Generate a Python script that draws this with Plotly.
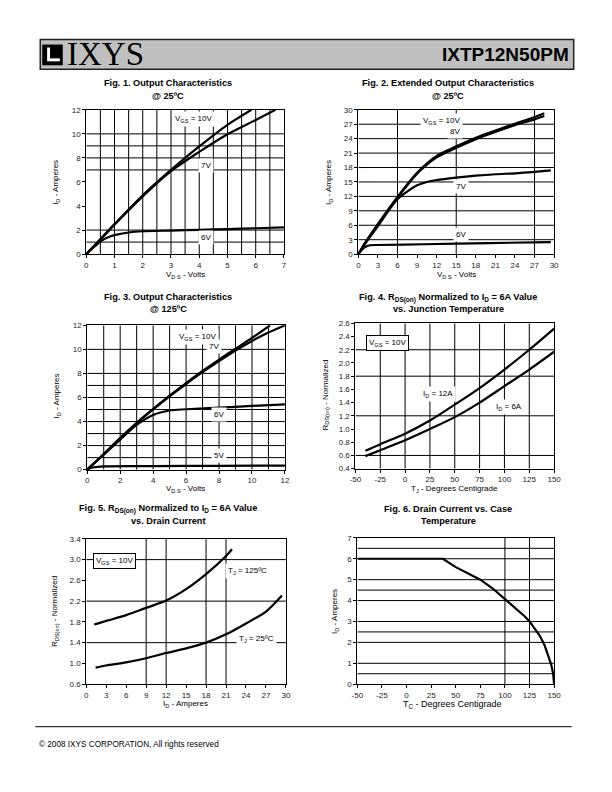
import plotly.graph_objects as go

W, H = 612, 792
FONT = "Liberation Sans, Arial, sans-serif"

# ---------------- data ----------------
# Fig. 1  Output characteristics @25C  (VDS [V], ID [A])
f1_vds_10v = [0, 0.5, 1, 2, 3, 4, 5, 5.85]
f1_id_10v = [0, 1.25, 2.5, 4.9, 7.0, 8.95, 10.75, 12.0]
f1_vds_7v = [0, 0.5, 1, 2, 3, 4, 5, 6, 6.7]
f1_id_7v = [0, 1.2, 2.45, 4.8, 6.9, 8.5, 9.97, 11.15, 12.0]
f1_vds_6v = [0, 0.25, 0.5, 0.75, 1, 1.5, 2, 3, 4, 5, 6, 7]
f1_id_6v = [0, 0.55, 1.05, 1.38, 1.58, 1.8, 1.9, 1.96, 2.02, 2.08, 2.15, 2.22]

# Fig. 2  Extended output characteristics @25C
f2_vds_10v = [0, 1, 3, 6, 9, 12, 15, 18, 21, 24, 27, 28.5]
f2_id_10v = [0, 2.3, 6.3, 11.9, 16.9, 20.4, 22.4, 24.2, 25.7, 27.1, 28.5, 29.3]
f2_vds_8v = [0, 1, 3, 6, 9, 12, 15, 18, 21, 24, 27, 28.5]
f2_id_8v = [0, 2.2, 6.1, 11.7, 16.7, 20.1, 22.1, 23.9, 25.4, 26.8, 28.0, 28.7]
f2_vds_7v = [0, 1, 3, 6, 9, 10.5, 12, 15, 18, 21, 24, 27, 29.5]
f2_id_7v = [0, 2.1, 5.8, 11.4, 14.3, 15.0, 15.4, 15.9, 16.3, 16.6, 16.8, 17.1, 17.4]
f2_vds_6v = [0, 0.6, 1.2, 1.8, 3, 10, 20, 29.5]
f2_id_6v = [0, 1.0, 1.6, 1.85, 1.9, 2.05, 2.3, 2.5]

# Fig. 3  Output characteristics @125C
f3_vds_10v = [0, 1, 2, 3, 4, 5, 6, 7, 8, 9, 10, 11.1]
f3_id_10v = [0, 1.3, 2.65, 3.9, 5.05, 6.15, 7.2, 8.2, 9.15, 10.05, 10.95, 12.0]
f3_vds_7v = [0, 1, 2, 3, 4, 5, 6, 7, 8, 9, 10, 11, 12]
f3_id_7v = [0, 1.28, 2.6, 3.85, 5.0, 6.1, 7.12, 8.1, 9.02, 9.9, 10.7, 11.4, 12.0]
f3_vds_6v = [0, 1, 2, 3, 4, 5, 6, 8, 10, 12]
f3_id_6v = [0, 1.25, 2.5, 3.72, 4.55, 4.92, 5.02, 5.15, 5.3, 5.43]
f3_vds_5v = [0, 0.4, 1, 4, 8, 12]
f3_id_5v = [0, 0.2, 0.28, 0.3, 0.32, 0.34]

# Fig. 4  RDS(on) normalized vs junction temperature
f4_tj = [-40, -25, 0, 25, 50, 75, 100, 125, 150]
f4_r_12a = [0.67, 0.77, 0.93, 1.13, 1.37, 1.62, 1.9, 2.2, 2.52]
f4_r_6a = [0.59, 0.68, 0.83, 1.0, 1.18, 1.4, 1.65, 1.9, 2.17]

# Fig. 5  RDS(on) normalized vs drain current
f5_id_125 = [1.2, 3, 6, 9, 12, 15, 18, 21, 21.9]
f5_r_125 = [1.75, 1.82, 1.93, 2.07, 2.21, 2.43, 2.72, 3.07, 3.2]
f5_id_25 = [1.4, 3, 6, 9, 12, 15, 18, 21, 24, 27, 29.4]
f5_r_25 = [0.92, 0.96, 1.02, 1.1, 1.2, 1.29, 1.4, 1.56, 1.77, 2.0, 2.31]

# Fig. 6  Drain current vs case temperature
f6_tc = [-50, 37, 50, 62, 75, 87, 100, 110, 120, 125, 130, 135, 140, 144, 147, 149, 150]
f6_id = [6.0, 6.0, 5.6, 5.3, 5.0, 4.6, 4.08, 3.65, 3.25, 3.0, 2.7, 2.35, 1.9, 1.4, 0.95, 0.5, 0.0]

# tick labels (x) for the temperature axes, hyphen minus as in the original
temp_ticks = [-50, -25, 0, 25, 50, 75, 100, 125, 150]
temp_tick_text = ["-50", "-25", "0", "25", "50", "75", "100", "125", "150"]

# grid lines (data units) per panel
f1_vgrid = [0.5, 1, 1.5, 2, 2.5, 3, 3.5, 4, 4.5, 5, 5.5, 6, 6.5]
f1_hgrid = [1, 2, 7, 8, 9, 10]
f2_vgrid = [6, 15, 27]
f2_hgrid = [3, 6, 9, 12, 15, 18, 21, 24, 27]
f3_vgrid = [1, 2, 3, 4, 5, 6, 7, 8, 9, 10, 11]
f3_hgrid = [1, 2, 3, 4, 5, 6, 7, 8, 10]
f4_vgrid = [-25, 0, 25, 50, 75, 100, 125]
f4_hgrid = [0.6, 1.2, 1.8, 2.2]
f5_vgrid = [9, 12, 18, 21]
f5_hgrid = [1.4, 2.2, 3.0]
f6_vgrid = [100, 125]
f6_hgrid = [0.5, 1, 2, 2.5, 3, 4, 4.5, 5, 6, 6.5]

# ---------------- figure ----------------
fig = go.Figure()


def py(p):
    return 1 - p / H


def pxx(p):
    return p / W


# panel geometry in pixels: (x0, x1, ytop, ybottom)
panels = {
    1: dict(px=(82, 284), py=(107, 253), xr=[0, 7], yr=[0, 12], xd=1, yd=2, x0=0, y0=0, yf=None),
    2: dict(px=(360, 560), py=(107, 253), xr=[0, 30], yr=[0, 30], xd=3, yd=3, x0=0, y0=0, yf=None),
    3: dict(px=(83, 285), py=(325, 471), xr=[0, 12], yr=[0, 12], xd=2, yd=2, x0=0, y0=0, yf=None),
    4: dict(px=(357, 560), py=(323, 470), xr=[-50, 150], yr=[0.4, 2.6], xd=25, yd=0.2, x0=-50, y0=0.4, yf=".1f"),
    5: dict(px=(82, 286), py=(541, 688), xr=[0, 30], yr=[0.6, 3.4], xd=3, yd=0.4, x0=0, y0=0.6, yf=".1f"),
    6: dict(px=(359, 560), py=(540, 688), xr=[-50, 150], yr=[0, 7], xd=25, yd=1, x0=-50, y0=0, yf=None),
}

tickfont = dict(family=FONT, size=8, color="#222")
for i, p in panels.items():
    sfx = "" if i == 1 else str(i)
    xa = dict(
        domain=[pxx(p["px"][0]), pxx(p["px"][1])], range=p["xr"], anchor="y" + sfx,
        tick0=p["x0"], dtick=p["xd"], showgrid=False, zeroline=False,
        showline=True, linecolor="black", linewidth=1, mirror=True,
        ticks="outside", ticklen=3, tickcolor="black", tickfont=tickfont, fixedrange=True)
    if i in (4, 6):
        xa.update(tickmode="array", tickvals=temp_ticks, ticktext=temp_tick_text)
    fig.layout["xaxis" + sfx] = xa
    ya = dict(
        domain=[py(p["py"][1]), py(p["py"][0])], range=p["yr"], anchor="x" + sfx,
        tick0=p["y0"], dtick=p["yd"], showgrid=False, zeroline=False,
        showline=True, linecolor="black", linewidth=1, mirror=True,
        ticks="outside", ticklen=3, tickcolor="black", tickfont=tickfont, fixedrange=True)
    if p["yf"]:
        ya["tickformat"] = p["yf"]
    fig.layout["yaxis" + sfx] = ya

grids = {1: (f1_vgrid, f1_hgrid), 2: (f2_vgrid, f2_hgrid), 3: (f3_vgrid, f3_hgrid),
         4: (f4_vgrid, f4_hgrid), 5: (f5_vgrid, f5_hgrid), 6: (f6_vgrid, f6_hgrid)}
shapes = []
for i, (vg, hg) in grids.items():
    sfx = "" if i == 1 else str(i)
    xr = panels[i]["xr"]
    yr = panels[i]["yr"]
    for v in vg:
        shapes.append(dict(type="line", xref="x" + sfx, yref="y" + sfx, x0=v, x1=v, y0=yr[0], y1=yr[1],
                           line=dict(color="black", width=1), layer="below"))
    for h in hg:
        shapes.append(dict(type="line", xref="x" + sfx, yref="y" + sfx, x0=xr[0], x1=xr[1], y0=h, y1=h,
                           line=dict(color="black", width=1), layer="below"))


def add(x, y, i, shape="spline"):
    sfx = "" if i == 1 else str(i)
    fig.add_trace(go.Scatter(x=x, y=y, mode="lines", xaxis="x" + sfx, yaxis="y" + sfx,
                             line=dict(color="black", width=2.2, shape=shape, smoothing=0.8),
                             showlegend=False, hoverinfo="skip"))


add(f1_vds_10v, f1_id_10v, 1)
add(f1_vds_7v, f1_id_7v, 1)
add(f1_vds_6v, f1_id_6v, 1)
add(f2_vds_10v, f2_id_10v, 2)
add(f2_vds_8v, f2_id_8v, 2)
add(f2_vds_7v, f2_id_7v, 2)
add(f2_vds_6v, f2_id_6v, 2)
add(f3_vds_10v, f3_id_10v, 3)
add(f3_vds_7v, f3_id_7v, 3)
add(f3_vds_6v, f3_id_6v, 3)
add(f3_vds_5v, f3_id_5v, 3)
add(f4_tj, f4_r_12a, 4)
add(f4_tj, f4_r_6a, 4)
add(f5_id_125, f5_r_125, 5)
add(f5_id_25, f5_r_25, 5)
add(f6_tc, f6_id, 6, shape="linear")

ann = []


def label(text, x, y, i, box=False, size=8):
    sfx = "" if i == 1 else str(i)
    d = dict(text=text, x=x, y=y, xref="x" + sfx, yref="y" + sfx, showarrow=False,
             font=dict(family=FONT, size=size, color="black"), bgcolor="white", borderpad=2)
    if box:
        d.update(bordercolor="black", borderwidth=1)
    ann.append(d)


label("V<sub>GS</sub> = 10V", 3.8, 11.2, 1)
label("7V", 4.25, 7.4, 1)
label("6V", 4.25, 1.35, 1)
label("V<sub>GS</sub> = 10V", 12.8, 27.6, 2)
label("8V", 14.8, 25.4, 2)
label("7V", 15.8, 14.0, 2)
label("6V", 15.8, 4.1, 2)
label("V<sub>GS</sub> = 10V", 6.7, 11.0, 3)
label("7V", 7.7, 10.2, 3)
label("6V", 8.0, 4.55, 3)
label("5V", 8.0, 1.15, 3)
label("V<sub>GS</sub> = 10V", -18, 2.3, 4, box=True)
label("I<sub>D</sub> = 12A", 33, 1.53, 4)
label("I<sub>D</sub> = 6A", 105, 1.33, 4)
label("V<sub>GS</sub> = 10V", 4.3, 2.97, 5, box=True)
label("T<sub>J</sub> = 125ºC", 24.3, 2.78, 5)
label("T<sub>J</sub> = 25ºC", 25.6, 1.47, 5)


def text(t, x, y, size=8, bold=False, angle=0, xanchor="center", family=FONT, color="black"):
    ann.append(dict(text=("<b>%s</b>" % t) if bold else t, x=pxx(x), y=py(y), xref="paper", yref="paper",
                    showarrow=False, textangle=angle, xanchor=xanchor, yanchor="middle",
                    font=dict(family=family, size=size, color=color)))


# titles
TS = 9.2
text("Fig. 1. Output Characteristics", 166, 80, TS, True)
text("@ 25ºC", 166, 93, TS, True)
text("Fig. 2. Extended Output Characteristics", 452, 80, TS, True)
text("@ 25ºC", 452, 93, TS, True)
text("Fig. 3. Output Characteristics", 166, 296, TS, True)
text("@ 125ºC", 166, 309, TS, True)
text("Fig. 4. R<sub>DS(on)</sub> Normalized to I<sub>D</sub> = 6A Value", 452, 297, TS, True)
text("vs. Junction Temperature", 452, 309, TS, True)
text("Fig. 5. R<sub>DS(on)</sub> Normalized to I<sub>D</sub> = 6A Value", 166, 511, TS, True)
text("vs. Drain Current", 166, 523, TS, True)
text("Fig. 6. Drain Current vs. Case", 452, 511, TS, True)
text("Temperature", 452, 523, TS, True)

# axis titles
text("V<sub>D S</sub> - Volts", 183, 274)
text("V<sub>D S</sub> - Volts", 460, 274)
text("V<sub>D S</sub> - Volts", 183, 491)
text("T<sub>J</sub> - Degrees Centigrade", 458, 491)
text("I<sub>D</sub> - Amperes", 183, 708)
text("T<sub>C</sub> - Degrees Centigrade", 456, 709, 9)
text("I<sub>D</sub> - Amperes", 51, 180, angle=-90)
text("I<sub>D</sub> - Amperes", 330, 180, angle=-90)
text("I<sub>D</sub> - Amperes", 52, 396, angle=-90)
text("R<sub>DS(on)</sub> - Normalized", 326, 396, angle=-90)
text("R<sub>DS(on)</sub> - Normalized", 50, 614, angle=-90)
text("I<sub>D</sub> - Amperes", 336, 614, angle=-90)

# header
shapes.append(dict(type="rect", xref="paper", yref="paper", x0=pxx(35), x1=pxx(580), y0=py(66), y1=py(36),
                   fillcolor="#c0c0c0", line=dict(color="#222", width=1.5), layer="below"))
shapes.append(dict(type="rect", xref="paper", yref="paper", x0=pxx(37), x1=pxx(58), y0=py(62), y1=py(41),
                   fillcolor="black", line=dict(width=0)))
shapes.append(dict(type="rect", xref="paper", yref="paper", x0=pxx(42), x1=pxx(45), y0=py(58), y1=py(44),
                   fillcolor="white", line=dict(width=0)))
shapes.append(dict(type="rect", xref="paper", yref="paper", x0=pxx(45), x1=pxx(55), y0=py(58), y1=py(55),
                   fillcolor="white", line=dict(width=0)))
text("IXYS", 60, 51, 33, xanchor="left", family="Liberation Serif, Times New Roman, serif")
text("IXTP12N50PM", 577, 51, 19, True, xanchor="right")

# footer
shapes.append(dict(type="line", xref="paper", yref="paper", x0=pxx(30), x1=pxx(578), y0=py(731), y1=py(731),
                   line=dict(color="black", width=1)))
text("© 2008 IXYS CORPORATION, All rights reserved", 32, 749, 8.2, xanchor="left")

fig.update_layout(width=W, height=H, margin=dict(l=0, r=0, t=0, b=0),
                  paper_bgcolor="white", plot_bgcolor="white",
                  shapes=shapes, annotations=ann, showlegend=False)

fig.write_html("out.html", config={"displayModeBar": False},
               post_script="document.body.style.margin='0';document.body.style.overflow='hidden';")
